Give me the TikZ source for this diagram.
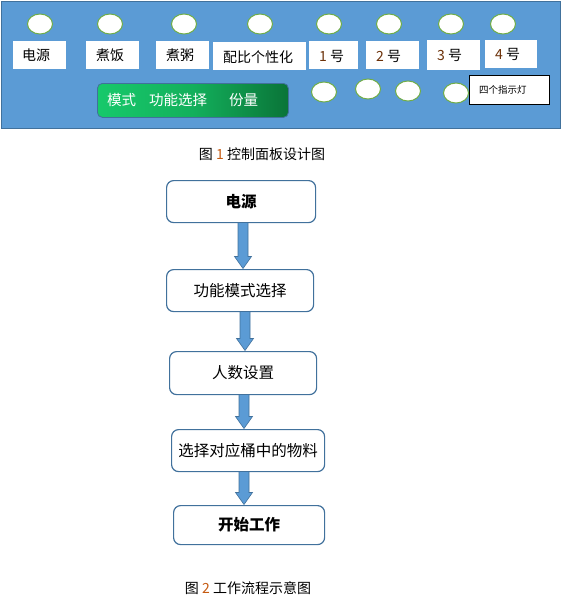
\documentclass[tikz,border=0pt]{standalone}
\usepackage{fontspec}
\setmainfont{Noto Sans CJK SC}
\usetikzlibrary{calc,shadings,shapes.geometric}
\definecolor{panelblue}{HTML}{5B9BD5}
\definecolor{panelborder}{HTML}{41719C}
\definecolor{ledgreen}{HTML}{70AD47}
\definecolor{btnA}{HTML}{17C96B}
\definecolor{btnB}{HTML}{0A7438}
\definecolor{numcol}{HTML}{C55A11}
\tikzset{
  led/.style={ellipse,draw=ledgreen,fill=white,line width=1pt,minimum width=25pt,minimum height=20pt,inner sep=0pt},
  lbl/.style={draw=none,fill=white,anchor=north west,inner sep=0pt},
  lbltext/.style={anchor=west,inner sep=0pt,font=\fontsize{14}{16}\selectfont},
  flowbox/.style={draw=panelborder,line width=1.2pt,rounded corners=7pt,fill=white,anchor=north west,inner sep=0pt,font=\fontsize{15.5}{18}\selectfont},
  caption/.style={font=\fontsize{14}{16}\selectfont},
  blockarrow/.style={fill=panelblue,draw=panelborder,line width=0.6pt,to path={
    let \p1=(\tikztostart), \p2=(\tikztotarget) in
    (\x1-5pt,\y1) -- (\x1-5pt,\y2+12pt) -- (\x1-8.5pt,\y2+12pt) -- (\x1,\y2) -- (\x1+8.5pt,\y2+12pt) -- (\x1+5pt,\y2+12pt) -- (\x1+5pt,\y1) -- cycle}}
}
\newcommand{\dg}[1]{\textcolor{numcol!55!black}{#1}}
\begin{document}
\begin{tikzpicture}[x=1pt,y=-1pt]
\useasboundingbox (0,0) rectangle (563,602);
% panel
\node[draw=panelborder,fill=panelblue,line width=1pt,anchor=north west,minimum width=559pt,minimum height=127pt,inner sep=0pt] (panel) at (1,1) {};
% top leds
\node[led] (t1) at (40,24) {};
\node[led] (t2) at (110,24) {};
\node[led] (t3) at (184,24) {};
\node[led] (t4) at (260,24) {};
\node[led] (t5) at (329,24) {};
\node[led] (t6) at (389,24) {};
\node[led] (t7) at (451,24) {};
\node[led] (t8) at (503,24) {};
% labels
\node[lbl,minimum width=53pt,minimum height=28pt] (l1) at (13,41) {};
\node[lbltext] at ($(l1.west)+(9,0)$) {电源};
\node[lbl,minimum width=53pt,minimum height=28pt] (l2) at (86,41) {};
\node[lbltext] at ($(l2.west)+(10,0)$) {煮饭};
\node[lbl,minimum width=53pt,minimum height=28pt] (l3) at (156,41) {};
\node[lbltext] at ($(l3.west)+(10,0)$) {煮粥};
\node[lbl,minimum width=93pt,minimum height=28pt] (l4) at (213,42) {};
\node[lbltext] at ($(l4.west)+(10,1)$) {配比个性化};
\node[lbl,minimum width=49pt,minimum height=28pt] (l5) at (309,41) {};
\node[lbltext] at ($(l5.west)+(10,1)$) {\dg{1} 号};
\node[lbl,minimum width=53pt,minimum height=28pt] (l6) at (366,41) {};
\node[lbltext] at ($(l6.west)+(10,1)$) {\dg{2} 号};
\node[lbl,minimum width=53pt,minimum height=30pt] (l7) at (427,40) {};
\node[lbltext] at ($(l7.west)+(10,0)$) {\dg{3} 号};
\node[lbl,minimum width=52pt,minimum height=28pt] (l8) at (485,40) {};
\node[lbltext] at ($(l8.west)+(10,0)$) {\dg{4} 号};
% green button
\node[anchor=north west,minimum width=191pt,minimum height=34pt,inner sep=0pt,rounded corners=5pt,left color=btnA,right color=btnB,middle color=btnA!70!btnB,draw=panelborder,line width=0.8pt] (btn) at (97,83) {};
\node[text=white,font=\fontsize{14.5}{16}\selectfont,anchor=west,inner sep=0pt] at ($(btn.west)+(10,0)$) {模式\hspace{13pt}功能选择\hspace{22pt}份量};
% bottom leds
\node[led] (b1) at (324,92) {};
\node[led] (b2) at (368,89) {};
\node[led] (b3) at (408,91) {};
\node[led] (b4) at (456,93) {};
% indicator box
\node[draw=black,fill=white,line width=0.8pt,anchor=north west,minimum width=80pt,minimum height=29pt,inner sep=0pt] (ind) at (469,75) {};
\node[font=\fontsize{9.5}{11}\selectfont,anchor=west,inner sep=0pt] at ($(ind.west)+(10,0)$) {四个指示灯};
% caption 1
\node[caption] (cap1) at (262,154) {图 \textcolor{numcol}{1} 控制面板设计图};
% flowchart
\node[flowbox,minimum width=149pt,minimum height=42pt] (f1) at (166,180) {\textbf{电源}};
\node[flowbox,minimum width=147pt,minimum height=42pt] (f2) at (166,269) {功能模式选择};
\node[flowbox,minimum width=147pt,minimum height=43pt] (f3) at (169,351) {人数设置};
\node[flowbox,minimum width=153pt,minimum height=42pt] (f4) at (171,429) {选择对应桶中的物料};
\node[flowbox,minimum width=151pt,minimum height=39pt] (f5) at (173,505) {\textbf{开始工作}};
\coordinate (a1s) at (243,222.5); \coordinate (a1e) at (243,268.5);
\coordinate (a2s) at (245,311.5); \coordinate (a2e) at (245,350.5);
\coordinate (a3s) at (244,394.5); \coordinate (a3e) at (244,428.5);
\coordinate (a4s) at (244,471.5); \coordinate (a4e) at (244,504.5);
\path[blockarrow] (a1s) to (a1e);
\path[blockarrow] (a2s) to (a2e);
\path[blockarrow] (a3s) to (a3e);
\path[blockarrow] (a4s) to (a4e);
\node[caption] (cap2) at (248,588) {图 \textcolor{numcol}{2} 工作流程示意图};
\end{tikzpicture}
\end{document}
